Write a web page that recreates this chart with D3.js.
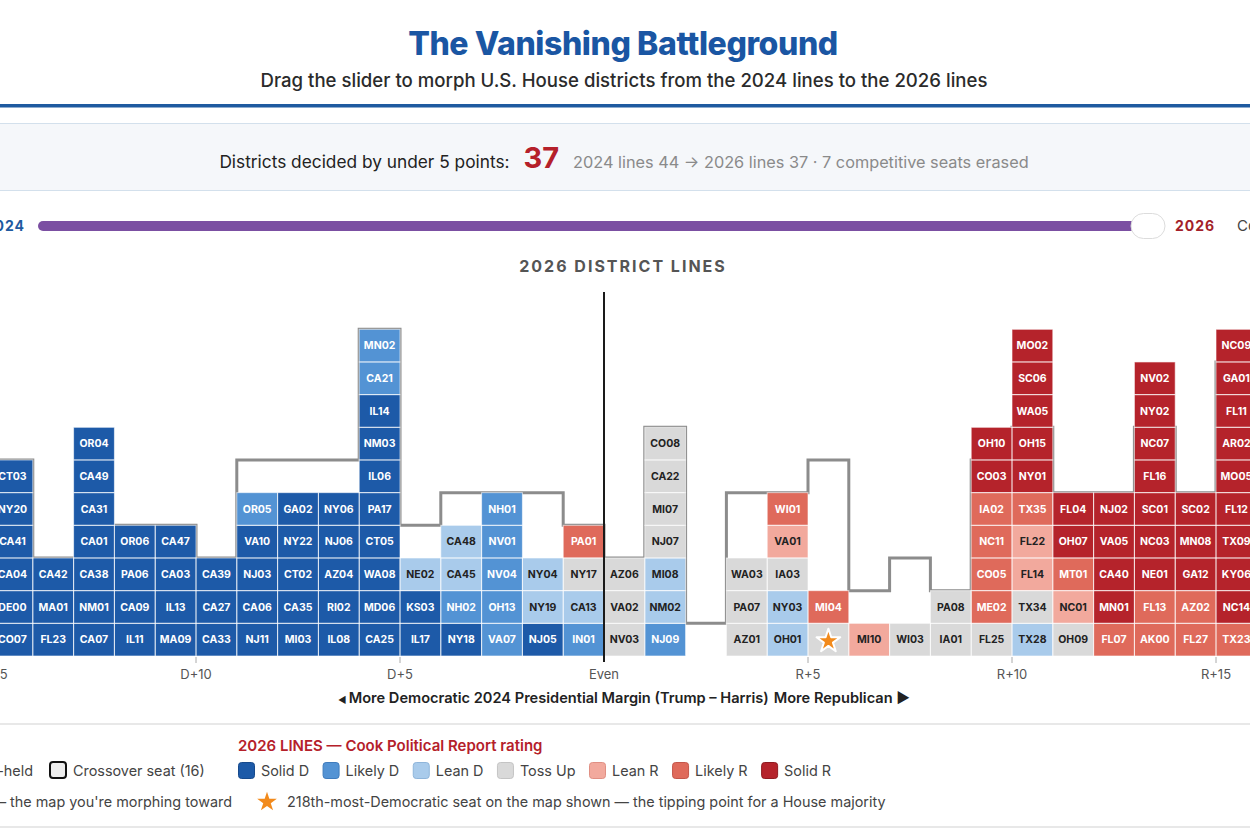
<!DOCTYPE html>
<html lang="en">
<head>
  <meta charset="utf-8"/>
  <title>The Vanishing Battleground</title>
  <script src="https://d3js.org/d3.v7.min.js"></script>
  <style>
    body { margin: 0; background: #fff; overflow: hidden; }
    svg { display: block; font-family: "Inter", "Roboto", sans-serif; }
    .cell-label { font-size: 10.5px; font-weight: 700; text-anchor: middle; }
    .tick-label { font-size: 13px; fill: #555; text-anchor: middle; }
    .legend-text { font-size: 14.4px; fill: #444; }
  </style>
</head>
<body>
<svg id="chart" width="1250" height="833"></svg>

<script>
  // margin bins (Trump - Harris, points); each column covers [bin, bin+1)
  const marginBins = [-15, -14, -13, -12, -11, -10, -9, -8, -7, -6, -5, -4, -3, -2, -1,
                      0, 1, 2, 3, 4, 5, 6, 7, 8, 9, 10, 11, 12, 13, 14, 15];

  // districts stacked bottom -> top in each bin, 2026 lines
  const seatNames = [
    ["CO07", "DE00", "CA04", "CA41", "NY20", "CT03"],
    ["FL23", "MA01", "CA42"],
    ["CA07", "NM01", "CA38", "CA01", "CA31", "CA49", "OR04"],
    ["IL11", "CA09", "PA06", "OR06"],
    ["MA09", "IL13", "CA03", "CA47"],
    ["CA33", "CA27", "CA39"],
    ["NJ11", "CA06", "NJ03", "VA10", "OR05"],
    ["MI03", "CA35", "CT02", "NY22", "GA02"],
    ["IL08", "RI02", "AZ04", "NJ06", "NY06"],
    ["CA25", "MD06", "WA08", "CT05", "PA17", "IL06", "NM03", "IL14", "CA21", "MN02"],
    ["IL17", "KS03", "NE02"],
    ["NY18", "NH02", "CA45", "CA48"],
    ["VA07", "OH13", "NV04", "NV01", "NH01"],
    ["NJ05", "NY19", "NY04"],
    ["IN01", "CA13", "NY17", "PA01"],
    ["NV03", "VA02", "AZ06"],
    ["NJ09", "NM02", "MI08", "NJ07", "MI07", "CA22", "CO08"],
    [],
    ["AZ01", "PA07", "WA03"],
    ["OH01", "NY03", "IA03", "VA01", "WI01"],
    ["★", "MI04"],
    ["MI10"],
    ["WI03"],
    ["IA01", "PA08"],
    ["FL25", "ME02", "CO05", "NC11", "IA02", "CO03", "OH10"],
    ["TX28", "TX34", "FL14", "FL22", "TX35", "NY01", "OH15", "WA05", "SC06", "MO02"],
    ["OH09", "NC01", "MT01", "OH07", "FL04"],
    ["FL07", "MN01", "CA40", "VA05", "NJ02"],
    ["AK00", "FL13", "NE01", "NC03", "SC01", "FL16", "NC07", "NY02", "NV02"],
    ["FL27", "AZ02", "GA12", "MN08", "SC02"],
    ["TX23", "NC14", "KY06", "TX09", "FL12", "MO05", "AR02", "FL11", "GA01", "NC09"]
  ];

  // Cook rating index per seat: 0 Solid D ... 6 Solid R
  const seatRatings = [
    [0, 0, 0, 0, 0, 0],
    [0, 0, 0],
    [0, 0, 0, 0, 0, 0, 0],
    [0, 0, 0, 0],
    [0, 0, 0, 0],
    [0, 0, 0],
    [0, 0, 0, 0, 1],
    [0, 0, 0, 0, 0],
    [0, 0, 0, 0, 0],
    [0, 0, 0, 0, 0, 0, 0, 0, 1, 1],
    [0, 0, 2],
    [0, 1, 2, 2],
    [1, 1, 1, 1, 1],
    [0, 2, 2],
    [1, 2, 3, 5],
    [3, 3, 3],
    [1, 2, 2, 3, 3, 3, 3],
    [],
    [3, 3, 3],
    [2, 2, 3, 4, 5],
    [3, 5],
    [4],
    [3],
    [3, 3],
    [3, 5, 5, 5, 5, 6, 6],
    [2, 3, 4, 4, 5, 6, 6, 6, 6, 6],
    [3, 4, 5, 6, 6],
    [5, 6, 6, 6, 6],
    [5, 5, 6, 6, 6, 6, 6, 6, 6],
    [5, 5, 6, 6, 6],
    [5, 6, 6, 6, 6, 6, 6, 6, 6, 6]
  ];

  // seats per bin on the 2024 lines (grey outline)
  const ghost2024 = [6, 3, 3, 4, 4, 3, 6, 6, 6, 10, 4, 5, 5, 5, 4,
                     3, 7, 1, 5, 5, 6, 2, 3, 2, 6, 7, 5, 5, 7, 5, 9];

  const ratingNames = ["Solid D", "Likely D", "Lean D", "Toss Up", "Lean R", "Likely R", "Solid R"];
  const ratingColors = ["#1d5aa8", "#5393d4", "#a9cbeb", "#d9d9d9", "#f2a99d", "#df6a5b", "#b5232b"];
  const ratingStrokes = ["#174a8c", "#3f7cbd", "#8fb5da", "#c4c4c4", "#e08f83", "#c4564a", "#8f1a20"];
  const darkText = [false, false, true, true, true, false, false];

  const tickValues = [-15, -10, -5, 0, 5, 10, 15];
  const tickLabels = ["D+15", "D+10", "D+5", "Even", "R+5", "R+10", "R+15"];

  const svg = d3.select("#chart");
  const W = 1250;

  const x = d3.scaleLinear().domain([0, 15]).range([604, 1216]);
  const y = d3.scaleLinear().domain([0, 10]).range([656, 329.3]);

  // ---- header ----
  svg.append("text")
          .attr("x", 623).attr("y", 55)
          .attr("text-anchor", "middle")
          .style("font-size", "32px").style("font-weight", 800)
          .style("letter-spacing", "-0.4px")
          .attr("fill", "#1a56a3")
          .text("The Vanishing Battleground");

  svg.append("text")
          .attr("x", 624).attr("y", 87)
          .attr("text-anchor", "middle")
          .style("font-size", "18.6px").style("font-weight", 500)
          .attr("fill", "#2b2b2b")
          .text("Drag the slider to morph U.S. House districts from the 2024 lines to the 2026 lines");

  svg.append("rect").attr("x", 0).attr("y", 104).attr("width", W).attr("height", 3.5).attr("fill", "#1f5aa0");

  // ---- stats panel ----
  svg.append("rect")
          .attr("x", -2).attr("y", 123.5).attr("width", W + 4).attr("height", 67)
          .attr("fill", "#f5f7fa").attr("stroke", "#d3e0ec");

  let under5now = 0, under5then = 0;
  marginBins.forEach(function (b, i) {
    if (b >= -5 && b < 5) {
      under5now += seatNames[i].length;
      under5then += ghost2024[i];
    }
  });

  const stat = svg.append("text")
          .attr("x", 624).attr("y", 168)
          .attr("text-anchor", "middle");
  stat.append("tspan").style("font-size", "17.3px").attr("fill", "#222")
          .text("Districts decided by under 5 points:");
  stat.append("tspan").attr("dx", 14).style("font-size", "29px").style("font-weight", 700)
          .attr("fill", "#b5202a").text(under5now);
  stat.append("tspan").attr("dx", 14).style("font-size", "16.3px").attr("fill", "#8a8a8a")
          .text("2024 lines " + under5then + " → 2026 lines " + under5now + " · "
                  + (under5then - under5now) + " competitive seats erased");

  // ---- slider ----
  svg.append("text").attr("x", 25).attr("y", 231).attr("text-anchor", "end")
          .style("font-size", "14px").style("font-weight", 700).style("letter-spacing", "1px")
          .attr("fill", "#1f5aa0").text("2024");
  svg.append("rect").attr("x", 38).attr("y", 221).attr("width", 1110).attr("height", 10).attr("rx", 5)
          .attr("fill", "#7b4fa2");
  svg.append("rect").attr("x", 1131).attr("y", 213.5).attr("width", 34).attr("height", 25).attr("rx", 12.5)
          .attr("fill", "#fff").attr("stroke", "#dcdcdc");
  svg.append("text").attr("x", 1175).attr("y", 231)
          .style("font-size", "14px").style("font-weight", 700).style("letter-spacing", "1px")
          .attr("fill", "#a31f2a").text("2026");
  svg.append("text").attr("x", 1237).attr("y", 231)
          .style("font-size", "15px").attr("fill", "#444").text("Compare");

  svg.append("text").attr("x", 623).attr("y", 272).attr("text-anchor", "middle")
          .style("font-size", "16px").style("font-weight", 700).style("letter-spacing", "2px")
          .attr("fill", "#555").text("2026 DISTRICT LINES");

  // ---- ghost outline of 2024 lines ----
  const ghostPts = [];
  marginBins.forEach(function (b, i) {
    ghostPts.push([x(b), y(ghost2024[i])]);
    ghostPts.push([x(b + 1), y(ghost2024[i])]);
  });
  svg.append("path")
          .attr("d", d3.line()(ghostPts))
          .attr("fill", "none")
          .attr("stroke", "#8c8c8c")
          .attr("stroke-width", 3);

  // ---- cells ----
  const cells = [];
  marginBins.forEach(function (b, i) {
    seatNames[i].forEach(function (name, j) {
      cells.push({bin: b, row: j, name: name, rating: seatRatings[i][j]});
    });
  });

  const gCells = svg.append("g");
  gCells.selectAll("rect.fill")
          .data(cells)
          .enter()
          .append("rect")
          .attr("class", "fill")
          .attr("x", d => x(d.bin))
          .attr("y", d => y(d.row + 1))
          .attr("width", d => x(d.bin + 1) - x(d.bin))
          .attr("height", d => y(d.row) - y(d.row + 1))
          .attr("fill", d => ratingColors[d.rating]);

  gCells.selectAll("rect.edge")
          .data(cells)
          .enter()
          .append("rect")
          .attr("class", "edge")
          .attr("x", d => x(d.bin))
          .attr("y", d => y(d.row + 1))
          .attr("width", d => x(d.bin + 1) - x(d.bin))
          .attr("height", d => y(d.row) - y(d.row + 1))
          .attr("fill", "none")
          .attr("stroke", "rgba(255,255,255,0.6)")
          .attr("stroke-width", 1);

  gCells.selectAll("text")
          .data(cells.filter(d => d.name !== "★"))
          .enter()
          .append("text")
          .attr("class", "cell-label")
          .attr("x", d => (x(d.bin) + x(d.bin + 1)) / 2)
          .attr("y", d => (y(d.row) + y(d.row + 1)) / 2)
          .attr("dy", "0.36em")
          .attr("fill", d => darkText[d.rating] ? "#222" : "#fff")
          .text(d => d.name);

  // tipping-point star
  gCells.selectAll("path.tip")
          .data(cells.filter(d => d.name === "★"))
          .enter()
          .append("path")
          .attr("class", "tip")
          .attr("transform", d => `translate(${(x(d.bin) + x(d.bin + 1)) / 2},${(y(d.row) + y(d.row + 1)) / 2 + 1.5})`)
          .attr("d", d3.symbol(d3.symbolStar).size(175)())
          .attr("fill", "#f28a1c")
          .attr("stroke", "#fff")
          .attr("stroke-width", 2)
          .attr("stroke-linejoin", "round");

  // even line
  svg.append("line")
          .attr("x1", x(0)).attr("x2", x(0))
          .attr("y1", 292).attr("y2", y(0) + 6)
          .attr("stroke", "#1a1a1a").attr("stroke-width", 2);

  // ---- axis ----
  const gAxis = svg.append("g");
  gAxis.selectAll("line")
          .data(tickValues.filter(t => t !== 0))
          .enter()
          .append("line")
          .attr("x1", d => x(d)).attr("x2", d => x(d))
          .attr("y1", y(0) + 1).attr("y2", y(0) + 7)
          .attr("stroke", "#aaa");
  gAxis.selectAll("text")
          .data(tickValues)
          .enter()
          .append("text")
          .attr("class", "tick-label")
          .attr("x", d => x(d))
          .attr("y", 679)
          .text((d, i) => tickLabels[i]);

  const axTitle = svg.append("text")
          .attr("x", 624).attr("y", 703)
          .attr("text-anchor", "middle")
          .style("font-size", "14.6px").style("font-weight", 600)
          .attr("fill", "#222");
  axTitle.append("tspan").style("font-size", "9px").text("◀ ");
  axTitle.append("tspan").text("More Democratic 2024 Presidential Margin (Trump – Harris)");
  axTitle.append("tspan").attr("dx", 5).text("More Republican ▶");

  // ---- legend ----
  [724, 827].forEach(function (yy) {
    svg.append("line").attr("x1", 0).attr("x2", W).attr("y1", yy).attr("y2", yy)
            .attr("stroke", "#e8e8e8").attr("stroke-width", 2);
  });

  svg.append("text").attr("x", 238).attr("y", 751)
          .style("font-size", "15px").style("font-weight", 600)
          .attr("fill", "#b5202a")
          .text("2026 LINES — Cook Political Report rating");

  svg.append("text").attr("class", "legend-text").attr("x", 33).attr("y", 776)
          .attr("text-anchor", "end").text("Republican-held");
  svg.append("rect").attr("x", 50).attr("y", 762).attr("width", 16).attr("height", 16).attr("rx", 3)
          .attr("fill", "#eee").attr("stroke", "#111").attr("stroke-width", 2);
  svg.append("text").attr("class", "legend-text").attr("x", 73).attr("y", 776)
          .text("Crossover seat (16)");

  let lx = 238;
  ratingNames.forEach(function (name, i) {
    svg.append("rect")
            .attr("x", lx + 0.5).attr("y", 762.5).attr("width", 16).attr("height", 16).attr("rx", 3)
            .attr("fill", ratingColors[i]).attr("stroke", ratingStrokes[i]);
    const t = svg.append("text").attr("class", "legend-text")
            .attr("x", lx + 23).attr("y", 776).text(name);
    lx = lx + 23 + t.node().getComputedTextLength() + 13.5;
  });

  svg.append("text").attr("class", "legend-text").attr("x", 232).attr("y", 807)
          .attr("text-anchor", "end")
          .text("Grey outline = 2024 lines — the map you're morphing toward");
  svg.append("path")
          .attr("transform", "translate(267,802)")
          .attr("d", d3.symbol(d3.symbolStar).size(120)())
          .attr("fill", "#f28a1c");
  svg.append("text").attr("class", "legend-text").attr("x", 287).attr("y", 807)
          .text("218th-most-Democratic seat on the map shown — the tipping point for a House majority");
</script>
</body>
</html>
